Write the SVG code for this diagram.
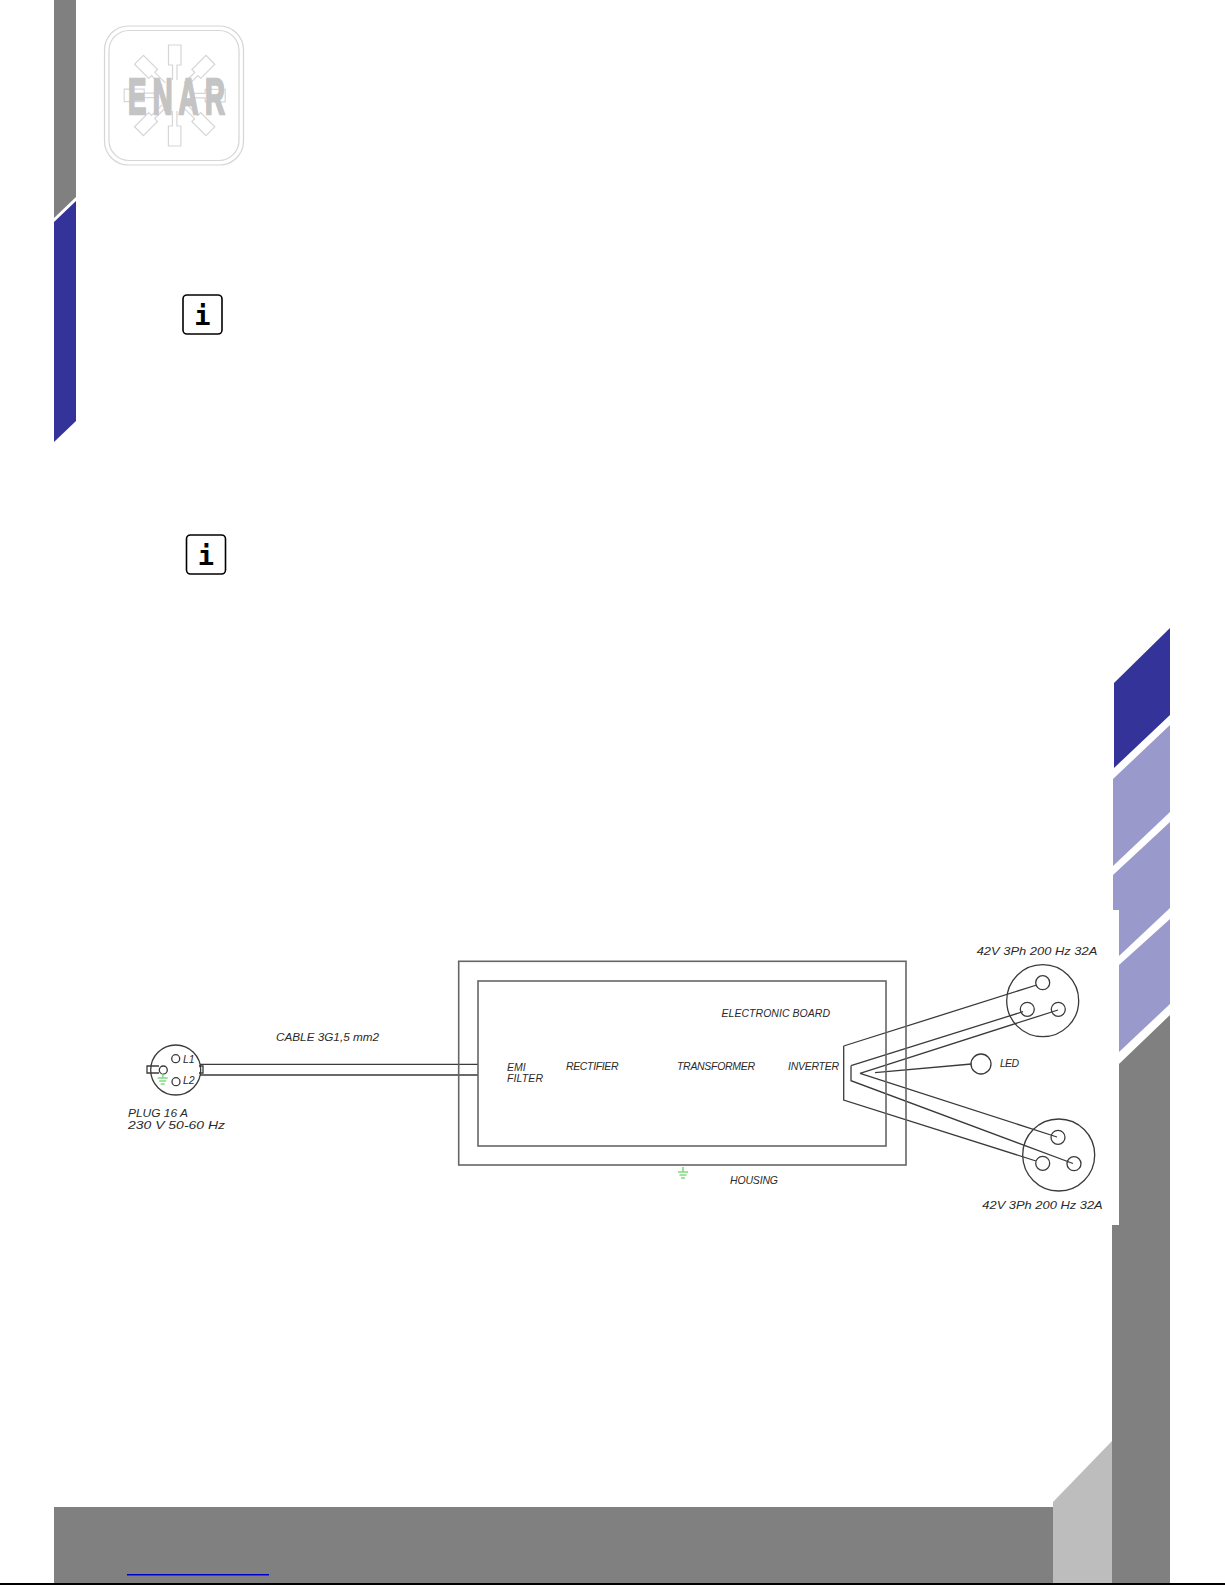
<svg xmlns="http://www.w3.org/2000/svg" width="1225" height="1585" viewBox="0 0 1225 1585">
<style>
.gray{fill:#808080}.blue{fill:#333399}.lilac{fill:#9999cc}
.logo{fill:none;stroke:#d6d6d6;stroke-width:1.2}
.cad{fill:none;stroke:#3a3a3a;stroke-width:1.3}
.box{fill:none;stroke:#666;stroke-width:1.6}
.earth{fill:none;stroke:#7edb7e;stroke-width:1.6}
text.t{font-family:"Liberation Sans",Arial,sans-serif;font-style:italic;font-size:10.5px;fill:#2a2a2a}
.info{fill:#fff;stroke:#000;stroke-width:1.6}
text.i{font-family:"DejaVu Sans Mono",monospace;font-weight:700;font-size:27px;fill:#000;text-anchor:middle}
</style>
<defs>
<path id="spoke" d="M172.500 45H181V65H177V80M172.500 80V65H168.500V45H172.500" class="logo"/>
<g id="earthSym" class="earth"><path d="M0 0V5M-5 5H5M-3.500 8H3.500M-2 11H2"/></g>
</defs>
<rect width="1225" height="1585" fill="#fff"/>

<g id="page-frame">
<polygon class="gray" points="54,0 76,0 76,197 54,218"/>
<polygon class="blue" points="54,222 76,201 76,421 54,442"/>
<polygon class="blue" points="1114,683 1170,628 1170,715 1114,768"/>
<polygon class="lilac" points="1113,779 1170,725 1170,812 1113,866"/>
<polygon class="lilac" points="1113,875 1170,822 1170,908 1119,956 1119,910 1113,910"/>
<polygon class="lilac" points="1119,965 1170,919 1170,1004 1119,1052"/>
<polygon class="gray" points="1170,1015 1170,1583 1112,1583 1112,1225 1119,1225 1119,1064"/>
<rect class="gray" x="54" y="1507" width="999" height="76"/>
<polygon fill="#bdbdbd" points="1053,1583 1053,1502 1112,1441 1112,1583"/>
<rect x="127" y="1574" width="142" height="1.500" fill="#0000cc"/>
<rect x="0" y="1583" width="1225" height="2" fill="#000"/>
</g>

<g id="logo">
<rect class="logo" x="104.500" y="26" width="139" height="139" rx="24"/>
<rect class="logo" x="109" y="30.500" width="130" height="130" rx="20"/>
<use href="#spoke" transform="rotate(0 174.700 95.500)"/>
<use href="#spoke" transform="rotate(45 174.700 95.500)"/>
<use href="#spoke" transform="rotate(90 174.700 95.500)"/>
<use href="#spoke" transform="rotate(135 174.700 95.500)"/>
<use href="#spoke" transform="rotate(180 174.700 95.500)"/>
<use href="#spoke" transform="rotate(225 174.700 95.500)"/>
<use href="#spoke" transform="rotate(270 174.700 95.500)"/>
<use href="#spoke" transform="rotate(315 174.700 95.500)"/>
<text transform="translate(128 114) scale(.55 1)" x="0 45 92 140" y="0" font-family="'Liberation Sans',Arial,sans-serif" font-weight="700" font-size="50" fill="#c4c4c4" stroke="#c4c4c4" stroke-width="2.500">ENAR</text>
</g>

<g id="info-1">
<rect class="info" x="183" y="295" width="39" height="39" rx="4"/>
<text class="i" x="202.500" y="324.500">i</text>
</g>
<g id="info-2">
<rect class="info" x="186.500" y="535" width="39" height="39" rx="4"/>
<text class="i" x="206" y="564.500">i</text>
</g>

<g id="connectors">
<path class="cad" d="M200 1064.300H478M200 1075H478"/>
<path class="cad" d="M843.700 1046L1036.700 985M843.700 1046V1100L1036 1161"/>
<path class="cad" d="M851 1065.700L1023 1011.700M851 1065.700V1080.700L1073 1163.500"/>
<path class="cad" d="M860 1073.300L1058 1010M860 1073.300L1057 1137"/>
<path class="cad" d="M875 1072.700L971.500 1064"/>
</g>

<g id="plug">
<circle class="cad" cx="175.700" cy="1070" r="25"/>
<circle class="cad" cx="175.700" cy="1058.700" r="4"/>
<circle class="cad" cx="176" cy="1081.700" r="4"/>
<circle class="cad" cx="163.300" cy="1070" r="4"/>
<path class="cad" d="M159 1066H147V1073H159"/>
<path class="cad" d="M199 1066H203V1073H199"/>
<use href="#earthSym" transform="translate(162.700 1073)"/>
<text class="t" x="183" y="1063">L1</text>
<text class="t" x="183" y="1084">L2</text>
<text class="t" x="128" y="1117" textLength="60" lengthAdjust="spacingAndGlyphs">PLUG 16 A</text>
<text class="t" x="128" y="1129.300" textLength="97" lengthAdjust="spacingAndGlyphs">230 V 50-60 Hz</text>
</g>
<text class="t" x="276" y="1040.600" textLength="103" lengthAdjust="spacingAndGlyphs">CABLE 3G1,5 mm2</text>

<g id="housing">
<rect class="box" x="458.700" y="961.300" width="447.300" height="203.700"/>
<use href="#earthSym" transform="translate(683 1167)"/>
<text class="t" x="730" y="1183.500" textLength="48" lengthAdjust="spacing">HOUSING</text>
</g>
<g id="electronic-board">
<rect class="box" x="478" y="981" width="408" height="165"/>
<text class="t" x="721.500" y="1017" textLength="108.500" lengthAdjust="spacing">ELECTRONIC BOARD</text>
<text class="t" x="507" y="1070.500">EMI</text>
<text class="t" x="507" y="1081.500" textLength="36" lengthAdjust="spacing">FILTER</text>
<text class="t" x="566" y="1069.500" textLength="52.500" lengthAdjust="spacing">RECTIFIER</text>
<text class="t" x="677" y="1069.500" textLength="78" lengthAdjust="spacing">TRANSFORMER</text>
<text class="t" x="788" y="1069.500" textLength="51" lengthAdjust="spacing">INVERTER</text>
</g>

<g id="socket-top">
<circle class="cad" cx="1042.700" cy="1000.700" r="36"/>
<circle class="cad" cx="1042.700" cy="982.700" r="7"/>
<circle class="cad" cx="1027.300" cy="1009.300" r="7"/>
<circle class="cad" cx="1058.300" cy="1009.300" r="7"/>
<text class="t" x="976.700" y="955" textLength="120.600" lengthAdjust="spacingAndGlyphs">42V 3Ph 200 Hz 32A</text>
</g>
<g id="socket-bottom">
<circle class="cad" cx="1058.700" cy="1155" r="36"/>
<circle class="cad" cx="1058" cy="1137.300" r="7"/>
<circle class="cad" cx="1042.700" cy="1163.300" r="7"/>
<circle class="cad" cx="1074" cy="1163.700" r="7"/>
<text class="t" x="982.300" y="1209.300" textLength="120.400" lengthAdjust="spacingAndGlyphs">42V 3Ph 200 Hz 32A</text>
</g>
<g id="led">
<circle class="cad" cx="981" cy="1064" r="10"/>
<text class="t" x="1000" y="1066.700" textLength="19" lengthAdjust="spacing">LED</text>
</g>
</svg>
